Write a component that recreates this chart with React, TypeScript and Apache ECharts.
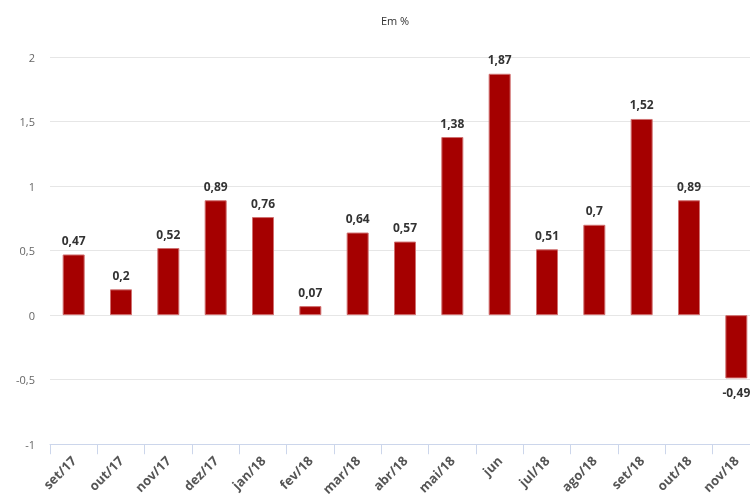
import React, { useEffect, useRef } from "react";
import * as echarts from "echarts";

const categories = ["set/17", "out/17", "nov/17", "dez/17", "jan/18", "fev/18", "mar/18", "abr/18", "mai/18", "jun", "jul/18", "ago/18", "set/18", "out/18", "nov/18"];
const values = [0.47, 0.2, 0.52, 0.89, 0.76, 0.07, 0.64, 0.57, 1.38, 1.87, 0.51, 0.7, 1.52, 0.89, -0.49];
const title = "Em %";

const fmt = (v: number) => String(v).replace(".", ",");

export default function App() {
  const ref = useRef<HTMLDivElement>(null);
  useEffect(() => {
    const chart = echarts.init(ref.current!, null, { renderer: "svg" });
    chart.setOption({
      animation: false,
      textStyle: { fontFamily: "Open Sans" },
      title: {
        text: title,
        left: 390,
        top: 10,
        textAlign: "center",
        textStyle: { fontSize: 11, fontWeight: "normal", color: "#333" },
      },
      grid: { left: 50, top: 57, right: 0, height: 388 },
      xAxis: {
        type: "category",
        data: categories,
        axisLine: { onZero: false, lineStyle: { color: "#ccd6eb" } },
        axisTick: { show: true, length: 10, lineStyle: { color: "#ccd6eb" } },
        axisLabel: { rotate: 45, fontSize: 13, fontWeight: "bold", color: "#555", margin: 14, interval: 0 },
      },
      yAxis: {
        type: "value",
        min: -1,
        max: 2,
        interval: 0.5,
        axisLine: { show: false },
        axisTick: { show: false },
        axisLabel: { fontSize: 11, color: "#666", margin: 15, formatter: (v: number) => fmt(v) },
        splitLine: { lineStyle: { color: "#e6e6e6" } },
      },
      series: [
        {
          type: "bar",
          barWidth: 22,
          data: values.map((v) => ({
            value: v,
            label: { position: v < 0 ? "bottom" : "top" },
          })),
          itemStyle: { color: "#a50000", borderColor: "#d07070", borderWidth: 1 },
          label: {
            show: true,
            fontSize: 12,
            fontWeight: "bold",
            color: "#333",
            distance: 8,
            formatter: (p: any) => fmt(p.value),
          },
        },
      ],
    });
    return () => chart.dispose();
  }, []);
  return (
    <div style={{ position: "fixed", left: 0, top: 0, width: 750, height: 498, overflow: "hidden" }}>
      <div ref={ref} style={{ width: 760, height: 498 }} />
    </div>
  );
}
